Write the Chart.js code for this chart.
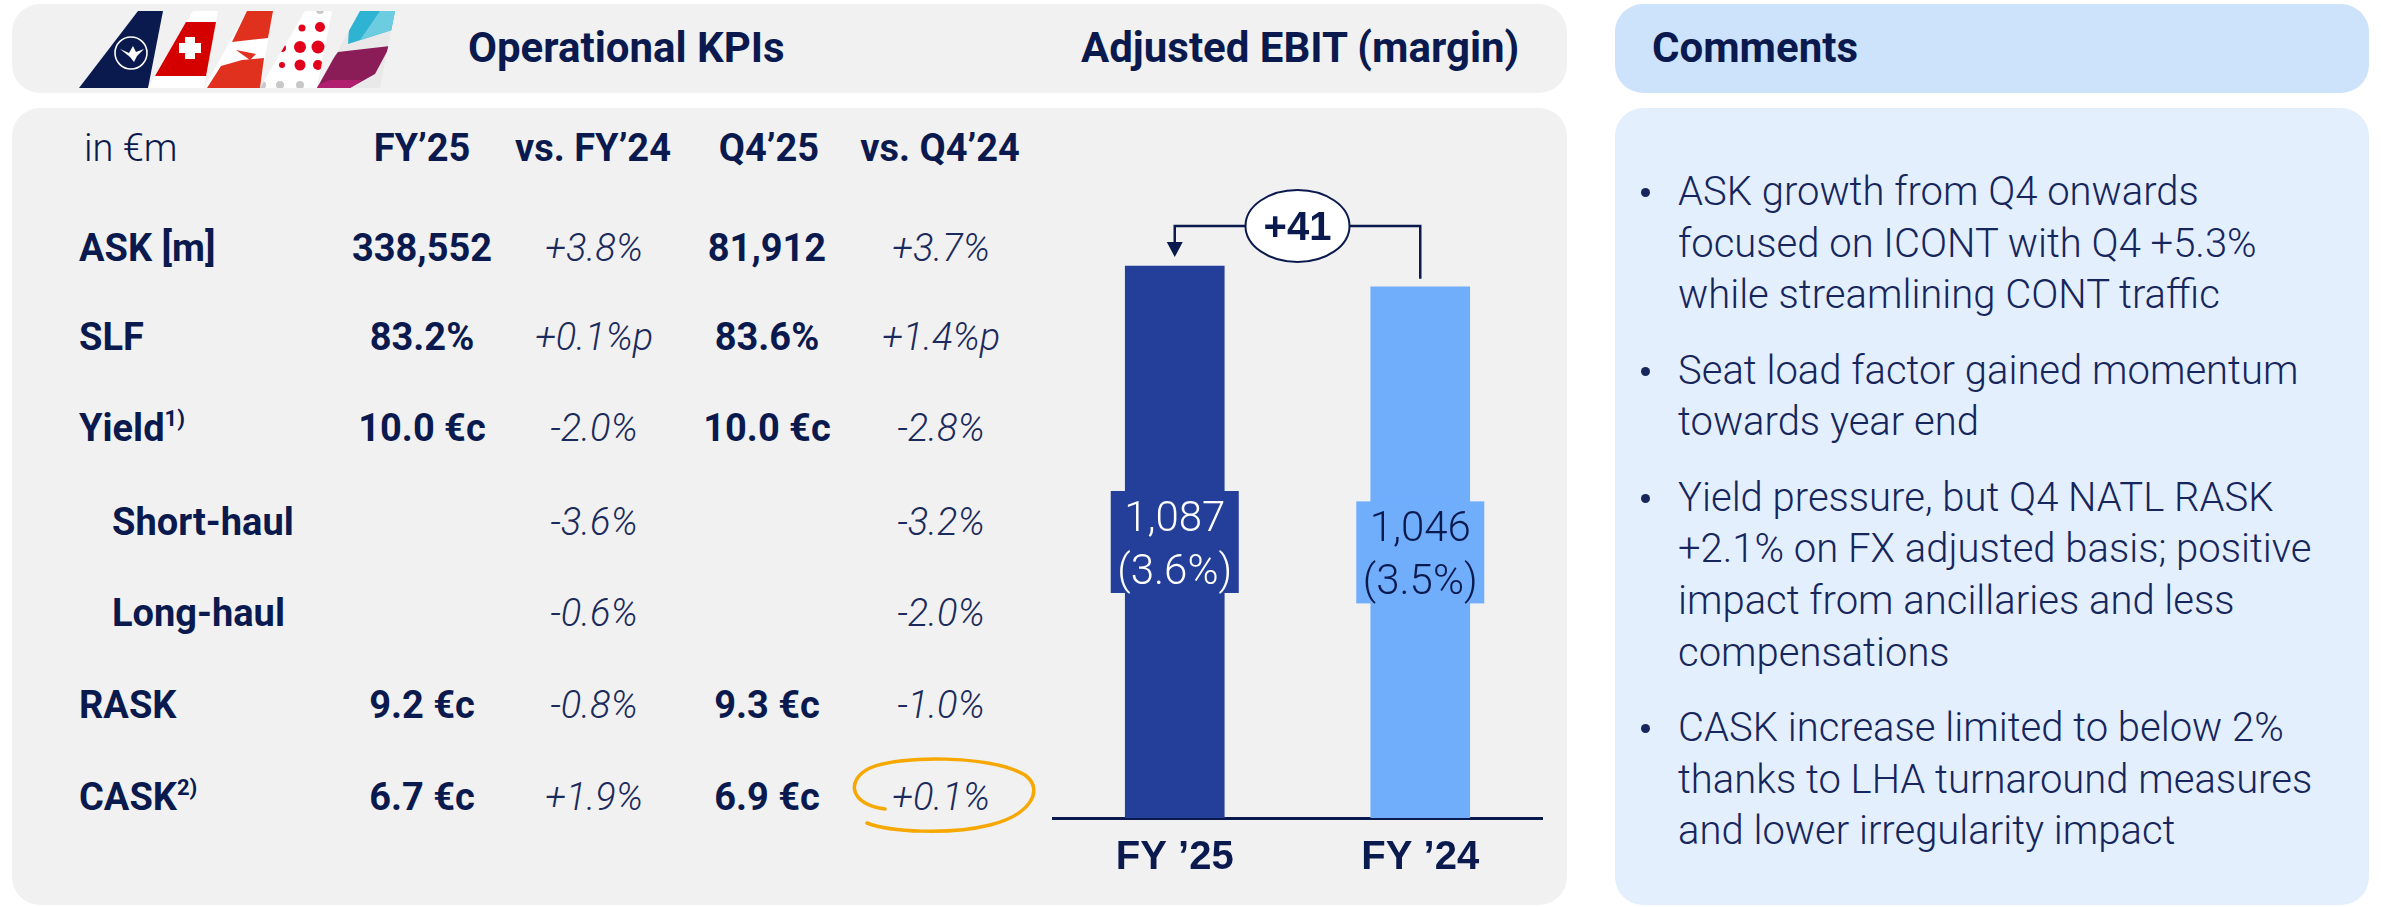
<!DOCTYPE html>
<html>
<head>
<meta charset="utf-8">
<script src="https://cdn.jsdelivr.net/npm/chart.js@4"></script>
<style>
    body { margin: 0; width: 2381px; height: 907px; overflow: hidden; background: #fff; font-family: Roboto, "Liberation Sans", sans-serif; color: #0b1a4e; }
    .box { position: absolute; border-radius: 28px; }
    .titulo { position: absolute; font-weight: 700; font-size: 42px; line-height: 42px; white-space: nowrap; }
    .cel { position: absolute; height: 38px; line-height: 38px; font-size: 38px; white-space: nowrap; }
    .b { font-weight: 700; }
    .it { font-weight: 300; font-style: italic; color: #1b2a5c; }
    .c { width: 220px; text-align: center; }
    sup { font-size: 22px; line-height: 0; vertical-align: 0; position: relative; top: -15px; }
    #comentarios { position: absolute; left: 1678px; top: 166px; font-size: 40px; font-weight: 300; line-height: 51.7px; color: #16265c; white-space: nowrap; }
    #comentarios div { position: relative; margin-bottom: 23.5px; }
    #comentarios div::before { content: ""; position: absolute; left: -37px; top: 22px; width: 9px; height: 9px; border-radius: 50%; background: #16265c; }
    #grafico { position: absolute; left: 1052px; top: 107px; }
</style>
</head>
<body>
<div class="box" style="left:12px;top:4px;width:1555px;height:89px;background:#f1f1f1"></div>
<div class="box" style="left:12px;top:108px;width:1555px;height:797px;background:#f1f1f1"></div>
<div class="box" style="left:1615px;top:4px;width:754px;height:89px;background:#cde2fb"></div>
<div class="box" style="left:1615px;top:108px;width:754px;height:797px;background:#e3effd"></div>

<svg style="position:absolute;left:0;top:0" width="420" height="100">
    <defs>
        <clipPath id="cauda4"><polygon points="260,88 305,11 332,11 317,88"/></clipPath>
        <clipPath id="cauda5"><polygon points="317,88 360,11 395,11 380,88"/></clipPath>
    </defs>
    <polygon points="79,88 138,11 163,11 148,88" fill="#0a1a4f"/>
    <circle cx="131" cy="53" r="16" fill="none" stroke="#fff" stroke-width="1.6"/>
    <path d="M120,49 L129,53 L133,46 L136,52 L144,49 L137,56 L134,62 L130,57 Z" fill="#fff"/>
    <polygon points="148,88 193,11 218,11 204,88" fill="#fff"/>
    <polygon points="155,76 186,22 216,22 206,76" fill="#d40000"/>
    <rect x="185" y="37" width="10" height="22" fill="#fff"/>
    <rect x="179" y="43" width="22" height="10" fill="#fff"/>
    <polygon points="204,88 247,11 273,11 260,88" fill="#fff"/>
    <polygon points="247,11 273,11 268,38 232,42" fill="#e0301e"/>
    <polygon points="221,66 242,60 264,58 260,88 207,88" fill="#e0301e"/>
    <polygon points="236,50 256,54 250,60" fill="#e0301e"/>
    <polygon points="260,88 305,11 332,11 317,88" fill="#fff"/>
    <g clip-path="url(#cauda4)">
        <circle cx="320" cy="10" r="4" fill="#c8c8c8"/>
        <circle cx="302" cy="28" r="3.5" fill="#e2001a"/>
        <circle cx="320" cy="27" r="5" fill="#e2001a"/>
        <circle cx="282" cy="48" r="4" fill="#e2001a"/>
        <circle cx="300" cy="47" r="6" fill="#e2001a"/>
        <circle cx="318" cy="47" r="6.5" fill="#e2001a"/>
        <circle cx="282" cy="65" r="3" fill="#e2001a"/>
        <circle cx="300" cy="65" r="5.5" fill="#e2001a"/>
        <circle cx="318" cy="65" r="5" fill="#e2001a"/>
        <circle cx="262" cy="85" r="4" fill="#c8c8c8"/>
        <circle cx="280" cy="85" r="4" fill="#c8c8c8"/>
        <circle cx="300" cy="85" r="4" fill="#c8c8c8"/>
    </g>
    <polygon points="317,88 360,11 395,11 380,88" fill="#e9e9e9"/>
    <g clip-path="url(#cauda5)">
        <polygon points="350,11 400,11 392,30 348,44" fill="#2fb3d3"/>
        <polygon points="380,11 400,11 392,30 360,40" fill="#6ccde0"/>
        <polygon points="310,88 338,52 390,46 375,74 350,88" fill="#8a1c57"/>
        <polygon points="310,88 350,88 362,80 330,80" fill="#b0206e"/>
    </g>
</svg>

<div class="titulo" style="left:468px;top:27px">Operational KPIs</div>
<div class="titulo" style="left:1081px;top:27px">Adjusted EBIT (margin)</div>
<div class="titulo" style="left:1652px;top:27px">Comments</div>

<div id="tabela"></div>

<svg style="position:absolute;left:840px;top:745px" width="210" height="100">
    <path d="M45,64 C10,60 5,35 30,23 C60,10 150,10 185,30 C205,45 190,70 150,80 C110,90 50,87 27,78"
          fill="none" stroke="#f6a800" stroke-width="3.5" stroke-linecap="round"/>
</svg>

<canvas id="grafico" width="491" height="800"></canvas>

<div id="comentarios">
    <div>ASK growth from Q4 onwards<br>focused on ICONT with Q4 +5.3%<br>while streamlining CONT traffic</div>
    <div>Seat load factor gained momentum<br>towards year end</div>
    <div>Yield pressure, but Q4 NATL RASK<br>+2.1% on FX adjusted basis; positive<br>impact from ancillaries and less<br>compensations</div>
    <div>CASK increase limited to below 2%<br>thanks to LHA turnaround measures<br>and lower irregularity impact</div>
</div>

<script>
// Table data
const colunas = ["FY\u201925", "vs. FY\u201924", "Q4\u201925", "vs. Q4\u201924"];
const linhas = ["ASK [m]", "SLF", "Yield<sup>1)</sup>", "Short-haul", "Long-haul", "RASK", "CASK<sup>2)</sup>"];
const subLinha = [false, false, false, true, true, false, false];
const fy25 = ["338,552", "83.2%", "10.0 \u20acc", "", "", "9.2 \u20acc", "6.7 \u20acc"];
const vsFy24 = ["+3.8%", "+0.1%p", "-2.0%", "-3.6%", "-0.6%", "-0.8%", "+1.9%"];
const q425 = ["81,912", "83.6%", "10.0 \u20acc", "", "", "9.3 \u20acc", "6.9 \u20acc"];
const vsQ424 = ["+3.7%", "+1.4%p", "-2.8%", "-3.2%", "-2.0%", "-1.0%", "+0.1%"];

// Chart data
const categorias = ["FY \u201925", "FY \u201924"];
const ebit = [1087, 1046];
const margem = ["3.6%", "3.5%"];
const delta = "+41";

const navy = "#0b1a4e";
const coresBarras = ["#233f99", "#70aefc"];
const coresTexto = ["#ffffff", navy];

// Build the KPI table
function montarTabela() {
    const tabela = document.getElementById("tabela");
    const centros = [422, 594, 767, 941];
    const topos = [248, 337, 428, 522, 613, 705, 797];
    let html = `<div class="cel" style="left:84px;top:129px;font-weight:300">in \u20acm</div>`;
    const cabecalho = [422, 593, 769, 940];
    colunas.forEach((c, j) => {
        html += `<div class="cel b c" style="left:${cabecalho[j] - 110}px;top:129px">${c}</div>`;
    });
    linhas.forEach((nome, i) => {
        const top = topos[i] - 19;
        html += `<div class="cel b" style="left:${subLinha[i] ? 112 : 79}px;top:${top}px">${nome}</div>`;
        const valores = [fy25[i], vsFy24[i], q425[i], vsQ424[i]];
        valores.forEach((v, j) => {
            if (!v) return;
            const classe = j % 2 === 0 ? "b" : "it";
            html += `<div class="cel ${classe} c" style="left:${centros[j] - 110}px;top:${top}px">${v}</div>`;
        });
    });
    tabela.innerHTML = html;
}

// Labels inside bars and the delta bracket
const rotulos = {
    id: "rotulos",
    afterDatasetsDraw(chart) {
        const ctx = chart.ctx;
        const barras = chart.getDatasetMeta(0).data;
        ctx.save();
        ctx.textAlign = "center";
        ctx.textBaseline = "alphabetic";
        barras.forEach((b, i) => {
            const meio = (b.y + b.base) / 2;
            ctx.fillStyle = coresBarras[i];
            ctx.fillRect(b.x - 64, meio - 51, 128, 102);
            ctx.fillStyle = coresTexto[i];
            ctx.font = "300 42px Roboto";
            ctx.fillText(ebit[i].toLocaleString("en-US"), b.x, meio - 11);
            ctx.fillText("(" + margem[i] + ")", b.x, meio + 42);
        });

        const b0 = barras[0], b1 = barras[1];
        const yL = b0.y - 40;
        const cx = (b0.x + b1.x) / 2;
        ctx.strokeStyle = navy;
        ctx.fillStyle = navy;
        ctx.lineWidth = 2.5;
        ctx.beginPath();
        ctx.moveTo(cx, yL);
        ctx.lineTo(b0.x, yL);
        ctx.lineTo(b0.x, b0.y - 22);
        ctx.moveTo(cx, yL);
        ctx.lineTo(b1.x, yL);
        ctx.lineTo(b1.x, b1.y - 8);
        ctx.stroke();
        ctx.beginPath();
        ctx.moveTo(b0.x - 8, b0.y - 24);
        ctx.lineTo(b0.x + 8, b0.y - 24);
        ctx.lineTo(b0.x, b0.y - 9);
        ctx.closePath();
        ctx.fill();

        ctx.beginPath();
        ctx.ellipse(cx, yL, 52, 36, 0, 0, Math.PI * 2);
        ctx.fillStyle = "#ffffff";
        ctx.fill();
        ctx.lineWidth = 2;
        ctx.stroke();
        ctx.fillStyle = navy;
        ctx.font = "bold 40px 'Liberation Sans'";
        ctx.fillText(delta, cx, yL + 14);
        ctx.restore();
    }
};

function desenharGrafico() {
    const ctx = document.getElementById("grafico").getContext("2d");
    new Chart(ctx, {
        type: "bar",
        data: {
            labels: categorias,
            datasets: [{
                data: ebit,
                backgroundColor: coresBarras,
                barThickness: 99
            }]
        },
        options: {
            responsive: false,
            animation: false,
            layout: { padding: 0 },
            plugins: { legend: { display: false }, tooltip: { enabled: false } },
            scales: {
                x: {
                    offset: true,
                    grid: { display: false, drawTicks: false },
                    border: { display: true, color: navy, width: 3 },
                    ticks: { color: navy, padding: 16, font: { family: "'Liberation Sans'", weight: "bold", size: 40 } },
                    afterFit: (s) => { s.height = 89; }
                },
                y: { display: false, min: 0, max: 1400 }
            }
        },
        plugins: [rotulos]
    });
}

document.addEventListener("DOMContentLoaded", () => {
    montarTabela();
    desenharGrafico();
});
</script>
</body>
</html>
